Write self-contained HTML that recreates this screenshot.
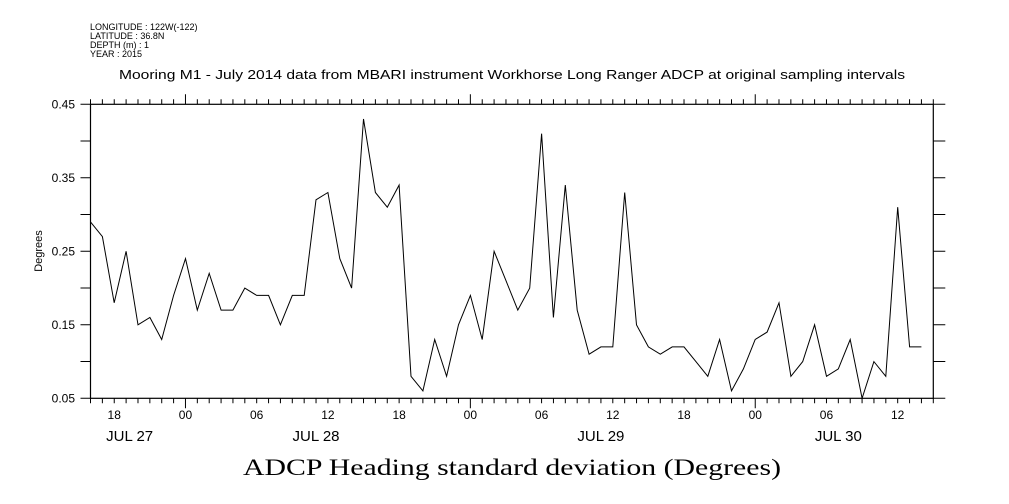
<!DOCTYPE html>
<html><head><meta charset="utf-8"><style>
body{margin:0;background:#fff;}
svg{display:block;font-family:"Liberation Sans",sans-serif;}
</style></head><body>
<svg id="chart" width="1009" height="504" viewBox="0 0 1009 504" xmlns="http://www.w3.org/2000/svg">
<g font-size="9" fill="#000">
<text x="90" y="30">LONGITUDE : 122W(-122)</text>
<text x="90" y="39">LATITUDE : 36.8N</text>
<text x="90" y="48">DEPTH (m) : 1</text>
<text x="90" y="57">YEAR : 2015</text>
</g>
<text x="512" y="79" font-size="13" text-anchor="middle" textLength="786" lengthAdjust="spacingAndGlyphs">Mooring M1 - July 2014 data from MBARI instrument Workhorse Long Ranger ADCP at original sampling intervals</text>
<text transform="translate(42,251) rotate(-90)" font-size="11" text-anchor="middle">Degrees</text>
<text x="512" y="475" font-family="Liberation Serif, serif" font-size="23" text-anchor="middle" textLength="538" lengthAdjust="spacingAndGlyphs">ADCP Heading standard deviation (Degrees)</text>
<g id="axes"></g>
<g id="marks"></g>
</svg>
<script>
const values = [0.29,0.27,0.18,0.25,0.15,0.16,0.13,0.19,0.24,0.17,0.22,0.17,0.17,0.20,0.19,0.19,0.15,0.19,0.19,0.32,0.33,0.24,0.20,0.43,0.33,0.31,0.34,0.08,0.06,0.13,0.08,0.15,0.19,0.13,0.25,0.21,
0.17,0.20,0.41,0.16,0.34,0.17,0.11,0.12,0.12,0.33,0.15,0.12,0.11,0.12,0.12,0.10,0.08,0.13,0.06,0.09,0.13,0.14,0.18,0.08,0.10,0.15,0.08,0.09,0.13,0.05,0.10,0.08,0.31,0.12,0.12];
const startHour = 16;
const yTicks = [0.05,0.15,0.25,0.35,0.45];
const xLabels = ["18","00","06","12","18","00","06","12","18","00","06","12"];
const xLabelHours = [2,8,14,20,26,32,38,44,50,56,62,68];
const dayLabels = ["JUL 27","JUL 28","JUL 29","JUL 30"];
const dayLabelHours = [3.3,19,43,63];
const L=90.5,R=933.3,T=104.3,B=398.3,H0=0,H1=71,V0=0.05,V1=0.45;
const xs=h=>L+(h-H0)/(H1-H0)*(R-L);
const ys=v=>B-(v-V0)/(V1-V0)*(B-T);
const NS="http://www.w3.org/2000/svg";
const axes=document.getElementById('axes'), marks=document.getElementById('marks');
function mk(tag,attrs,parent){const e=document.createElementNS(NS,tag);for(const k in attrs)e.setAttribute(k,attrs[k]);parent.appendChild(e);return e;}
const frame=mk('rect',{x:L,y:T,width:R-L,height:B-T,fill:'none',stroke:'#000','stroke-width':1.2},axes);


let d='';
for(let h=0;h<=H1;h++){
  const x=xs(h), major=((h+startHour)%24===0);
  d+=`M${x},${B}V${B+(major?10:5)}M${x},${T}V${T-(major?10:5)}`;
}
for(let v=0.05;v<=0.4501;v+=0.05){const y=ys(v);d+=`M${L-10},${y}H${L}M${R},${y}H${R+12}`;}
d+=`M${L-10},${B}H${L}M${R},${B}H${R+12}`;
const tk=mk('path',{d:d,stroke:'#000','stroke-width':1,fill:'none'},axes);


yTicks.forEach(v=>{const t=mk('text',{x:75,y:ys(v)+4,'font-size':12,'text-anchor':'end'},axes);t.textContent=v.toFixed(2);

});
xLabels.forEach((s,i)=>{const t=mk('text',{x:xs(xLabelHours[i]),y:419,'font-size':12,'text-anchor':'middle'},axes);t.textContent=s;

});
dayLabels.forEach((s,i)=>{const t=mk('text',{x:xs(dayLabelHours[i]),y:441,'font-size':15,'text-anchor':'middle'},axes);t.textContent=s;

});
const pts=values.map((v,i)=>xs(i).toFixed(1)+','+ys(v).toFixed(1)).join(' ');
const line=mk('polyline',{points:pts,fill:'none',stroke:'#000','stroke-width':1},marks);


</script>
</body></html>
